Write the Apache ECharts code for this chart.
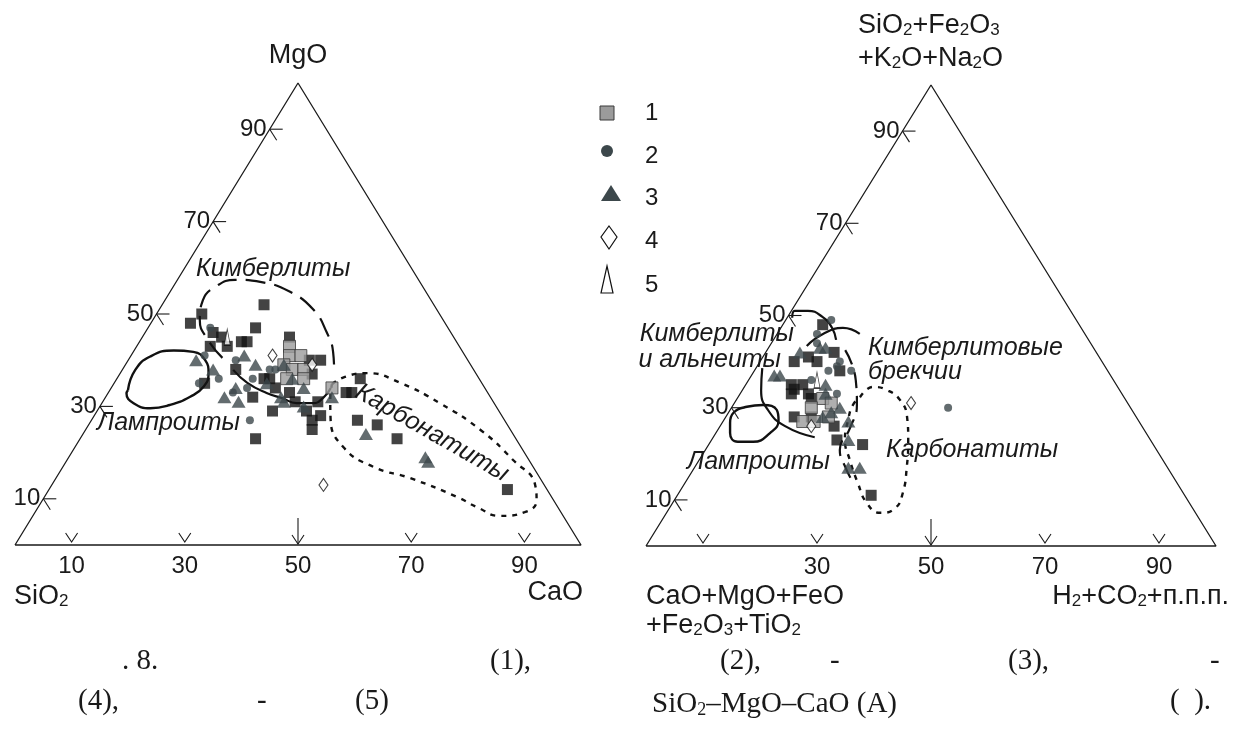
<!DOCTYPE html>
<html><head><meta charset="utf-8">
<script src="https://cdn.jsdelivr.net/npm/echarts@6/dist/echarts.min.js"></script>
<style>html,body{margin:0;padding:0;background:#fff}#c{width:1233px;height:738px}</style>
</head><body><div id="c"></div>
<script>
// ---------- Diagram A: SiO2 – MgO – CaO ; points as [CaO %, MgO %] ----------
const A_black = [[18,52],[8,50],[7,48],[12,46],[19,47],[14,45],[16,43],[18,44],[19,44],[13,43],[26,45],[34,40],[32,40],[20,38],[26,36],[27,36],[34,37],[29,34],[32,33],[34,31],[31,29],[37,29],[38,31],[40,28],[39,27],[40,25],[31,23],[42,33],[43,33],[47,27],[16,35],[26,32],[43,36],[51,26],[56,23],[81,12]];
const A_type1 = [[27,43],[28,41],[30,41],[28,39],[30,38],[32,38],[30,36],[33,36],[39,34]];
const A_type2 = [[13,41],[11,47],[19,40],[18,36],[15,35],[24,36],[26,38],[27,38],[24,34],[22,33],[28,27]];
const A_type3 = [[12,40],[16,38],[20,41],[23,39],[22,34],[21,32],[24,31],[27,35],[31,32],[32,31],[31,36],[34,34],[28,39],[36,30],[40,32],[50,24],[63,19],[64,18]];
const A_type4 = [[25,41],[33,39],[48,13]];
const A_type5 = [[15,45]];
// field contours (A)
const A_kimberlite = [[16.4,40.5],[11.9,44.4],[8.3,48.7],[6.7,53],[7.4,55.8],[10.2,57.4],[15.1,56.9],[21.2,54.8],[27.3,50.9],[32,46.1],[35.3,41.8],[37.7,37.4]];
const A_boundary = [[19.6,37.9],[23.5,35.1],[28,32.9],[31.3,31.8],[34.4,30.7],[37.3,30.7],[38.5,31.8],[38.8,34]];
const A_lamproite = [[3.2,33.5],[2.3,37.9],[3.5,40.8],[7,42.1],[10.6,41.8],[13.6,40],[15.6,37.2],[16.2,34.3],[14.9,32.1],[12.2,30.3],[9.1,29.6],[5.6,30.7],[3.3,32.8],[3.2,33.5]];
const A_carbonatite = [[38.6,34.8],[40.1,36.4],[43.6,37.2],[50.5,35.1],[59.7,30.7],[69.8,24.9],[78.8,18.4],[85.4,13],[87.3,9.7],[86.5,7.1],[82.6,6.3],[77.5,8.2],[72.9,10.4],[62.5,14.5],[54.9,16.9],[47.4,21.2],[42,27.5],[40,31.4],[38.6,34.8]];

// ---------- Diagram B: points as [H2+CO2+п.п.п. %, SiO2+Fe2O3+K2O+Na2O %] ----------
const B_black = [[7,48],[6,40],[8,41],[10,40],[12,42],[15,38],[8,35],[9,34],[10,35],[9,33],[12,33],[13,32],[12,28],[15,28],[20,26],[22,23],[27,22],[34,11]];
const B_type1 = [[15,32],[17,31],[14,30],[14,27],[18,28],[16,27]];
const B_type2 = [[8,49],[7,46],[8,44],[14,40],[13,38],[14,39],[17,38],[11,36],[17,33],[38,30]];
const B_type3 = [[6,42],[9,43],[10,43],[4,37],[5,37],[14,35],[15,33],[19,30],[18,29],[17,28],[22,27],[24,23],[27,17],[29,17]];
const B_type4 = [[16,26],[31,31]];
const B_type5 = [[12,36]];
const B_lamproite = [[1.4,26.7],[0.9,28.9],[2.6,30.2],[5.2,30.6],[8.2,29.5],[9.6,27.3],[9.5,24.5],[7.5,22.6],[4.8,22.6],[2.5,24.5],[1.4,26.7]];
const B_kimbTop = [[0.9,49.5],[0.6,51],[2.9,51],[6.1,49.7],[9.0,47.3],[11.0,44.7]];
const B_kimbLeft = [[1.1,38.6],[3.3,33.8],[6.65,29.5],[11.4,26],[17.8,23.6]];
const B_brecciaTop = [[6.5,43.4],[8.05,46],[10.9,47.3],[14.5,46]];
const B_brecciaRight = [[13.7,42.5],[18.8,36],[21.7,30.6],[23,25.6],[23.6,20.8],[26.6,16.9],[29.5,13.7]];
const B_carbonatite = [[21.4,32.3],[22.6,34.5],[25.4,33.8],[28.7,31.7],[31.8,28],[34.5,23],[37.2,17.1],[39.3,11.5],[39.6,8.2],[37.5,7.2],[34.1,9.3],[30.3,13.7],[26.4,18.7],[23.4,23],[21.8,27.3],[21,30.6],[21.4,32.3]];

// ticks
const TICKS = [10,30,50,70,90];
const A_baseLabels = [10,30,50,70,90];
const A_sideLabels = [10,30,50,70,90];
const B_baseLabels = [30,50,70,90];
const B_sideLabels = [10,30,50,70,90];

const FONT = '"Liberation Sans", Arial, sans-serif';
const SERIF = '"Liberation Serif", "Times New Roman", serif';
const INK = '#1a1a1a';

// ternary -> cartesian (percent of base / height)
function tern(p){ return [p[0] + p[1]/2, p[1]]; }

function outline(gi){
  return {type:'line', xAxisIndex:gi, yAxisIndex:gi, data:[[0,0],[100,0],[0,100],[0,0]].map(tern),
    symbol:'none', silent:true, clip:false, z:1, lineStyle:{color:INK, width:1.3}};
}
function contour(gi, pts, type, width){
  return {type:'line', xAxisIndex:gi, yAxisIndex:gi, data:pts.map(tern), smooth:0.5,
    symbol:'none', silent:true, clip:false, z:2, lineStyle:{color:'#111', width:width, type:type}};
}
function sc(gi, name, pts, symbol, size, itemStyle, z){
  return {type:'scatter', name:name, xAxisIndex:gi, yAxisIndex:gi, data:pts.map(tern), symbol:symbol,
    symbolSize:size, itemStyle:itemStyle, z:z, clip:false, silent:true};
}
function baseTicks(gi, labels){
  return {type:'custom', xAxisIndex:gi, yAxisIndex:gi, clip:false, silent:true, z:3,
    data: TICKS.map(v => [v, labels.indexOf(v) >= 0 ? 1 : 0]),
    renderItem: function(params, api){
      const v = api.value(0), show = api.value(1);
      const p = api.coord([v, 0]);
      const ch = [];
      const st = {stroke:INK, lineWidth:1.1, fill:null};
      if (v === 50){
        ch.push({type:'line', shape:{x1:p[0], y1:p[1]-27, x2:p[0], y2:p[1]-1}, style:st});
        ch.push({type:'polyline', shape:{points:[[p[0]-6,p[1]-10],[p[0],p[1]-1],[p[0]+6,p[1]-10]]}, style:st});
      } else {
        ch.push({type:'polyline', shape:{points:[[p[0]-6,p[1]-12],[p[0],p[1]-3],[p[0]+6,p[1]-12]]}, style:st});
      }
      if (show) ch.push({type:'text', x:p[0], y:p[1]+21, style:{text:String(v), font:'24px '+FONT, fill:INK, align:'center', verticalAlign:'middle'}});
      return {type:'group', children:ch};
    }};
}
function sideTicks(gi, labels){
  return {type:'custom', xAxisIndex:gi, yAxisIndex:gi, clip:false, silent:true, z:3,
    data: TICKS.map(v => [v, labels.indexOf(v) >= 0 ? 1 : 0]),
    renderItem: function(params, api){
      const v = api.value(0), show = api.value(1);
      const p = api.coord(tern([0, v]));
      const st = {stroke:INK, lineWidth:1.1, fill:null};
      const ch = [
        {type:'line', shape:{x1:p[0], y1:p[1], x2:p[0]+13, y2:p[1]}, style:st},
        {type:'line', shape:{x1:p[0], y1:p[1], x2:p[0]+7, y2:p[1]+11}, style:st}
      ];
      if (show) ch.push({type:'text', x:p[0]-3, y:p[1], style:{text:String(v), font:'24px '+FONT, fill:INK, align:'right', verticalAlign:'middle'}});
      return {type:'group', children:ch};
    }};
}

const ST = {
  black:{color:'#141414'},
  t1:{color:'#9b9b9b', borderColor:'#3a3a3a', borderWidth:1},
  t2:{color:'#3c474b'},
  t3:{color:'#3c474b'},
  t4:{color:'#ffffff', borderColor:'#111', borderWidth:1.1},
  t5:{color:'#ffffff', borderColor:'#111', borderWidth:1.1}
};
const DIAMOND = 'path://M5,0 L10,7 L5,14 L0,7 Z';
const NARROW = 'path://M3,0 L6,16 L0,16 Z';

function markers(gi, blk, d1, d2, d3, d4, d5){
  return [
    sc(gi, '0', blk, 'rect', 11, ST.black, 5),
    sc(gi, '1', d1, 'rect', 12, ST.t1, 6),
    sc(gi, '2', d2, 'circle', 8, ST.t2, 7),
    sc(gi, '3', d3, 'triangle', [14,12], ST.t3, 8),
    sc(gi, '4', d4, DIAMOND, [9,13], ST.t4, 9),
    sc(gi, '5', d5, NARROW, [6,16], ST.t5, 9)
  ];
}

// rich-text helpers (subscripts)
const RICH = {
  m:{fontSize:27, fontFamily:FONT, fill:INK, lineHeight:32, verticalAlign:'bottom'},
  s:{fontSize:17, fontFamily:FONT, fill:INK, lineHeight:10, verticalAlign:'bottom'}
};
const RICH_SERIF = {
  m:{fontSize:29, fontFamily:SERIF, fill:INK, lineHeight:34, verticalAlign:'bottom'},
  s:{fontSize:18, fontFamily:SERIF, fill:INK, lineHeight:10, verticalAlign:'bottom'}
};
function rt(x, y, text, align, rich){
  return {type:'text', x:x, y:y, silent:true, style:{text:text, rich:rich || RICH, align:align, verticalAlign:'middle'}};
}
function tx(x, y, text, align, font, rot){
  const o = {type:'text', x:x, y:y, silent:true, style:{text:text, font:font, fill:INK, align:align, verticalAlign:'middle'}};
  if (rot) o.rotation = rot;
  return o;
}
const LBL = 'italic 25px ' + FONT;
const CAP = '29px ' + SERIF;

const graphics = [
  // vertex labels
  tx(298, 56, 'MgO', 'center', '27px ' + FONT),
  rt(14, 594, '{m|SiO}{s|2}', 'left'),
  tx(583, 593, 'CaO', 'right', '27px ' + FONT),
  rt(858, 23, '{m|SiO}{s|2}{m|+Fe}{s|2}{m|O}{s|3}', 'left'),
  rt(858, 56, '{m|+K}{s|2}{m|O+Na}{s|2}{m|O}', 'left'),
  rt(646, 594, '{m|CaO+MgO+FeO}', 'left'),
  rt(646, 623, '{m|+Fe}{s|2}{m|O}{s|3}{m|+TiO}{s|2}', 'left'),
  rt(1229, 594, '{m|H}{s|2}{m|+CO}{s|2}{m|+п.п.п.}', 'right'),
  // field names
  tx(196, 269, 'Кимберлиты', 'left', LBL),
  tx(97, 423, 'Лампроиты', 'left', LBL),
  tx(432, 433, 'Карбонатиты', 'center', LBL, -0.52),
  tx(794, 334, 'Кимберлиты', 'right', LBL),
  tx(781, 360, 'и альнеиты', 'right', LBL),
  tx(868, 348, 'Кимберлитовые', 'left', LBL),
  tx(868, 372, 'брекчии', 'left', LBL),
  tx(687, 462, 'Лампроиты', 'left', LBL),
  tx(886, 450, 'Карбонатиты', 'left', LBL),
  // legend
  {type:'rect', silent:true, shape:{x:600, y:106, width:14, height:14}, style:{fill:'#9b9b9b', stroke:'#3a3a3a', lineWidth:1}},
  {type:'circle', silent:true, shape:{cx:607, cy:151, r:6}, style:{fill:'#3c474b'}},
  {type:'polygon', silent:true, shape:{points:[[611,185],[621,201],[601,201]]}, style:{fill:'#3c474b'}},
  {type:'polygon', silent:true, shape:{points:[[609,226],[617,237],[609,249],[601,237]]}, style:{fill:'#fff', stroke:'#111', lineWidth:1.2}},
  {type:'polygon', silent:true, shape:{points:[[607,266],[613,293],[601,293]]}, style:{fill:'#fff', stroke:'#111', lineWidth:1.2}},
  tx(645, 113, '1', 'left', '24px ' + FONT),
  tx(645, 156, '2', 'left', '24px ' + FONT),
  tx(645, 198, '3', 'left', '24px ' + FONT),
  tx(645, 241, '4', 'left', '24px ' + FONT),
  tx(645, 285, '5', 'left', '24px ' + FONT),
  // caption
  tx(122, 661, '. 8.', 'left', CAP),
  tx(490, 661, '(1),', 'left', CAP),
  tx(720, 661, '(2),', 'left', CAP),
  tx(830, 661, '-', 'left', CAP),
  tx(1008, 661, '(3),', 'left', CAP),
  tx(1210, 661, '-', 'left', CAP),
  tx(78, 701, '(4),', 'left', CAP),
  tx(257, 701, '-', 'left', CAP),
  tx(355, 701, '(5)', 'left', CAP),
  rt(652, 702, '{m|SiO}{s|2}{m|–MgO–CaO (A)}', 'left', RICH_SERIF),
  tx(1170, 701, '(  ).', 'left', CAP)
];

const option = {
  animation:false,
  backgroundColor:'#ffffff',
  grid:[{left:15, top:83, width:566, height:462}, {left:646, top:85, width:570, height:461}],
  xAxis:[{gridIndex:0, type:'value', min:0, max:100, show:false}, {gridIndex:1, type:'value', min:0, max:100, show:false}],
  yAxis:[{gridIndex:0, type:'value', min:0, max:100, show:false}, {gridIndex:1, type:'value', min:0, max:100, show:false}],
  series:[].concat(
    [outline(0), outline(1)],
    [contour(0, A_kimberlite, [20,9], 2.2), contour(0, A_boundary, 'solid', 2.2),
     contour(0, A_lamproite, 'solid', 2.4), contour(0, A_carbonatite, [5,6], 2.4)],
    [contour(1, B_lamproite, 'solid', 2.4), contour(1, B_kimbTop, 'solid', 2.2), contour(1, B_kimbLeft, 'solid', 2.2),
     contour(1, B_brecciaTop, 'solid', 2.2), contour(1, B_brecciaRight, [16,8], 2.2), contour(1, B_carbonatite, [5,6], 2.4)],
    [baseTicks(0, A_baseLabels), sideTicks(0, A_sideLabels), baseTicks(1, B_baseLabels), sideTicks(1, B_sideLabels)],
    markers(0, A_black, A_type1, A_type2, A_type3, A_type4, A_type5),
    markers(1, B_black, B_type1, B_type2, B_type3, B_type4, B_type5)
  ),
  graphic: graphics
};
const chart = echarts.init(document.getElementById('c'), null, {renderer:'canvas'});
chart.setOption(option);
</script>
</body></html>
